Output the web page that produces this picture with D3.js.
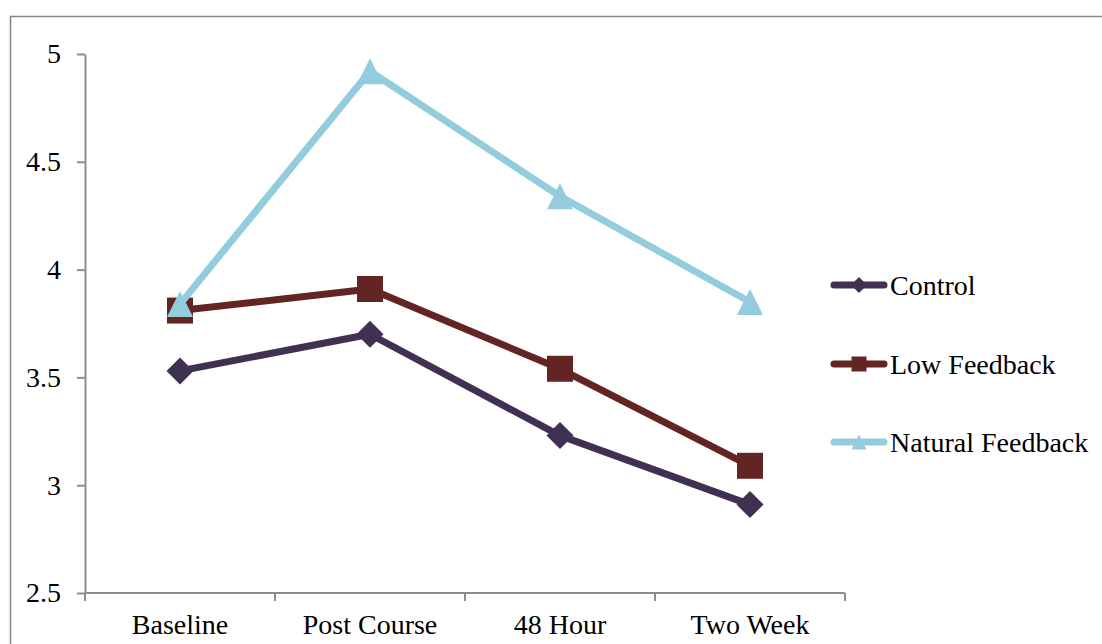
<!DOCTYPE html>
<html>
<head>
<meta charset="utf-8">
<script src="https://cdn.jsdelivr.net/npm/d3@7"></script>
<style>
  html, body { margin: 0; padding: 0; background: #fff; }
  svg { display: block; }
  text { font-family: "Liberation Serif", "Times New Roman", serif; fill: #000; }
</style>
</head>
<body>
<svg id="chart" width="1102" height="644"></svg>
<script>
// Mean scores at each measurement point
const categories = ["Baseline", "Post Course", "48 Hour", "Two Week"];
const seriesNames = ["Control", "Low Feedback", "Natural Feedback"];
const controlValues = [3.53, 3.70, 3.23, 2.91];
const lowFeedbackValues = [3.81, 3.91, 3.54, 3.09];
const naturalFeedbackValues = [3.84, 4.92, 4.34, 3.85];
const yTickValues = [2.5, 3, 3.5, 4, 4.5, 5];

const seriesStyles = [
  { color: "#403152", marker: "diamond" },
  { color: "#632523", marker: "square" },
  { color: "#93CDDD", marker: "triangle" }
];
const seriesValues = [controlValues, lowFeedbackValues, naturalFeedbackValues];
const series = seriesNames.map((name, i) => ({
  name,
  values: seriesValues[i],
  ...seriesStyles[i]
}));

const fontSize = "28px";
const svg = d3.select("#chart");

// Outer chart frame
svg.append("rect")
  .attr("x", 10.5).attr("y", 16.5)
  .attr("width", 1110).attr("height", 660)
  .attr("fill", "none")
  .attr("stroke", "#878787")
  .attr("stroke-width", 1.5);

const plot = { left: 85, right: 845, top: 54, bottom: 593 };

const x = d3.scaleBand()
  .domain(categories)
  .range([plot.left, plot.right]);

const y = d3.scaleLinear()
  .domain([2.5, 5])
  .range([plot.bottom, plot.top]);

const axisColor = "#8c8c8c";

// Y axis
const yAxis = svg.append("g")
  .attr("transform", `translate(${plot.left},0)`)
  .call(d3.axisLeft(y).tickValues(yTickValues).tickFormat(d3.format("")).tickSize(8).tickSizeOuter(0).tickPadding(16));
yAxis.select(".domain").attr("stroke", axisColor).attr("stroke-width", 2);
yAxis.selectAll(".tick line").attr("stroke", axisColor).attr("stroke-width", 2);
yAxis.selectAll(".tick text")
  .style("font-family", '"Liberation Serif", "Times New Roman", serif')
  .style("font-size", fontSize)
  .attr("fill", "#000");

// X axis with tick marks on category boundaries
const xAxis = svg.append("g")
  .attr("transform", `translate(0,${plot.bottom})`);
xAxis.append("line")
  .attr("x1", plot.left).attr("x2", plot.right)
  .attr("stroke", axisColor).attr("stroke-width", 2);
const boundaries = categories.map(c => x(c)).concat([x.range()[1]]);
xAxis.selectAll("line.tick")
  .data(boundaries)
  .join("line")
  .attr("class", "tick")
  .attr("x1", d => d).attr("x2", d => d)
  .attr("y1", 0).attr("y2", 8)
  .attr("stroke", axisColor).attr("stroke-width", 2);
xAxis.selectAll("text")
  .data(categories)
  .join("text")
  .attr("x", d => x(d) + x.bandwidth() / 2)
  .attr("y", 41)
  .attr("text-anchor", "middle")
  .style("font-size", fontSize)
  .text(d => d);

// Marker shapes
function markerPath(type, s) {
  const h = s / 2;
  if (type === "diamond") return `M0,${-h}L${h},0L0,${h}L${-h},0Z`;
  if (type === "square") return `M${-h},${-h}H${h}V${h}H${-h}Z`;
  return `M0,${-h}L${h},${h}L${-h},${h}Z`;
}

const line = d3.line()
  .x((d, i) => x(categories[i]) + x.bandwidth() / 2)
  .y(d => y(d));

series.forEach(s => {
  const g = svg.append("g");
  g.append("path")
    .attr("d", line(s.values))
    .attr("fill", "none")
    .attr("stroke", s.color)
    .attr("stroke-width", 7)
    .attr("stroke-linejoin", "round");
  g.selectAll("path.marker")
    .data(s.values)
    .join("path")
    .attr("class", "marker")
    .attr("transform", (d, i) => `translate(${x(categories[i]) + x.bandwidth() / 2},${y(d)})`)
    .attr("d", markerPath(s.marker, s.marker === "diamond" ? 27 : 26))
    .attr("fill", s.color);
});

// Legend
const legendY = [285, 364, 442];
const legend = svg.append("g");
series.forEach((s, i) => {
  const g = legend.append("g").attr("transform", `translate(0,${legendY[i]})`);
  g.append("line")
    .attr("x1", 834).attr("x2", 884)
    .attr("stroke", s.color)
    .attr("stroke-width", 7)
    .attr("stroke-linecap", "round");
  g.append("path")
    .attr("transform", "translate(859,0)")
    .attr("d", markerPath(s.marker, s.marker === "diamond" ? 16 : 15))
    .attr("fill", s.color);
  g.append("text")
    .attr("x", 890)
    .attr("y", 10)
    .style("font-size", fontSize)
    .text(s.name);
});
</script>
</body>
</html>
